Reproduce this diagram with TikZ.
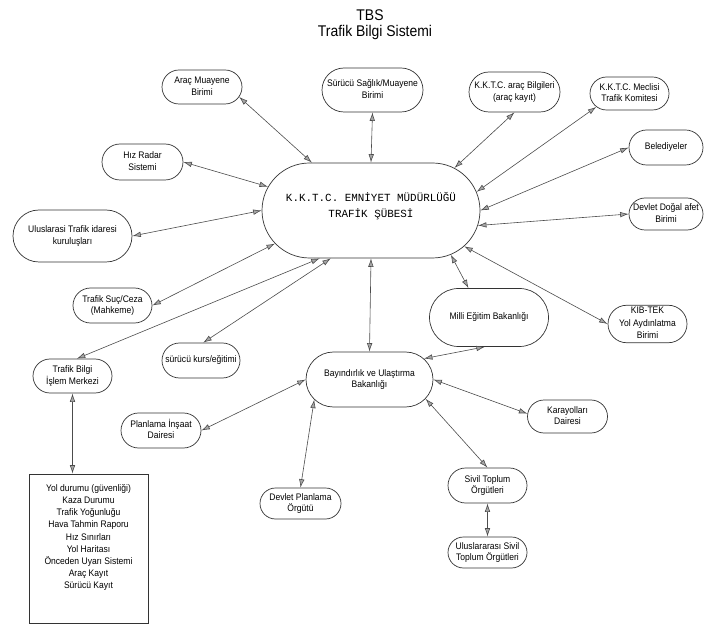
\documentclass[tikz,border=0pt]{standalone}
\usepackage{fontspec}
\setmainfont{Liberation Sans}[FakeStretch=0.9]
\newfontfamily\emnfont{Liberation Mono}
\usetikzlibrary{arrows.meta,shapes.misc}

\newcommand{\boxtext}[1]{\makebox[0pt]{\begin{tabular}{@{}c@{}}#1\end{tabular}}}

\tikzset{
  office/.style={draw=black!80, line width=0.7pt, shape=rounded rectangle, inner sep=0pt, font=\fontsize{9.5}{11.5}\selectfont},
  link/.style={<->, >={Latex[length=8.5pt,width=5.5pt,fill=black!35]}, draw=black!70, line width=0.6pt}
}

\begin{document}
\begin{tikzpicture}[x=1pt,y=-1pt]
\useasboundingbox (0,0) rectangle (707,628);

% title
\node[anchor=base, font=\fontsize{15.5}{18}\selectfont] (tbs) at (370,21) {TBS};
\node[anchor=base, font=\fontsize{15.5}{18}\selectfont] (title) at (375,37) {Trafik Bilgi Sistemi};

% center
\node[office, minimum width=218pt, minimum height=95pt, font=\emnfont\fontsize{10.9}{16}\selectfont, text height=14.2pt, text depth=17.8pt] (main) at (371,210.5) {\boxtext{K.K.T.C. EMNİYET MÜDÜRLÜĞÜ\\TRAFİK ŞÜBESİ}};

% units round it
\node[office, minimum width=80pt, minimum height=34pt] (arac) at (202,87) {\boxtext{Araç Muayene\\Birimi}};
\node[office, minimum width=101pt, minimum height=44pt] (surucu) at (372.5,90) {\boxtext{Sürücü Sağlık/Muayene\\Birimi}};
\node[office, minimum width=91pt, minimum height=40pt] (kayit) at (514.5,92) {\boxtext{K.K.T.C. araç Bilgileri\\(araç kayıt)}};
\node[office, minimum width=79pt, minimum height=33pt] (meclis) at (629.5,93.5) {\boxtext{K.K.T.C. Meclisi\\Trafik Komitesi}};
\node[office, minimum width=74pt, minimum height=35pt] (belediye) at (666,147.5) {\boxtext{Belediyeler}};
\node[office, minimum width=81pt, minimum height=36pt] (radar) at (142.5,162) {\boxtext{Hız Radar\\Sistemi}};
\node[office, minimum width=74pt, minimum height=32pt] (afet) at (666,214) {\boxtext{Devlet Doğal afet\\Birimi}};
\node[office, minimum width=119pt, minimum height=52pt] (ulus) at (72.5,236) {\boxtext{Uluslarasi Trafik idaresi\\kuruluşları}};
\node[office, minimum width=79pt, minimum height=35pt] (suc) at (112.5,305.5) {\boxtext{Trafik Suç/Ceza\\(Mahkeme)}};
\node[office, minimum width=119pt, minimum height=58pt] (milli) at (489,317.5) {\boxtext{Milli Eğitim Bakanlığı}};
\node[office, minimum width=79pt, minimum height=34pt, font=\fontsize{9.5}{12.5}\selectfont] (kibtek) at (647.5,324) {\boxtext{KIB-TEK\\Yol Aydınlatma\\Birimi}};
\node[office, minimum width=79pt, minimum height=34pt] (islem) at (72.5,376) {\boxtext{Trafik Bilgi\\İşlem Merkezi}};
\node[office, minimum width=78pt, minimum height=35pt] (kurs) at (201,360.5) {\boxtext{sürücü kurs/eğitimi}};
\node[office, minimum width=127pt, minimum height=55pt] (bayin) at (369.5,379.5) {\boxtext{Bayındırlık ve Ulaştırma\\Bakanlığı}};
\node[office, minimum width=80pt, minimum height=33pt] (karayol) at (567.5,416.5) {\boxtext{Karayolları\\Dairesi}};
\node[office, minimum width=80pt, minimum height=35pt] (planlama) at (161,430.5) {\boxtext{Planlama İnşaat\\Dairesi}};
\node[office, minimum width=81pt, minimum height=31pt] (dpo) at (300.5,503.5) {\boxtext{Devlet Planlama\\Örgütü}};
\node[office, minimum width=79pt, minimum height=35pt] (sivil) at (487.5,485.5) {\boxtext{Sivil Toplum\\Örgütleri}};
\node[office, minimum width=79pt, minimum height=31pt] (usivil) at (487.5,552.5) {\boxtext{Uluslararası Sivil\\Toplum Örgütleri}};

% data list
\node[draw=black!80, line width=0.7pt, minimum width=119pt, minimum height=149pt, inner sep=0pt, font=\fontsize{9.5}{12.1}\selectfont, text height=45.85pt, text depth=63.05pt] (liste) at (88.5,548.5) {\boxtext{Yol durumu (güvenliği)\\Kaza Durumu\\Trafik Yoğunluğu\\Hava Tahmin Raporu\\Hız Sınırları\\Yol Haritası\\Önceden Uyarı Sistemi\\Araç Kayıt\\Sürücü Kayıt}};

% links
\draw[link] (arac.-15) -- (main.141.5);
\draw[link] (surucu.south) -- (main.north);
\draw[link] (kayit.south) -- (main.27.7);
\draw[link] (meclis.202.8) -- (main.10.5);
\draw[link] (belediye.west) -- (main.0.8);
\draw[link] (afet.west) -- (main.-8);
\draw[link] (radar.east) -- (main.167.3);
\draw[link] (ulus.east) -- (main.180.8);
\draw[link] (suc.east) -- (main.199.9);
\draw[link] (islem.76.7) -- (main.223);
\draw[link] (kurs.83.8) -- (main.230.4);
\draw[link] (main.south) -- (bayin.north);
\draw[link] (main.-29.9) -- (milli.125.4);
\draw[link] (main.-21.3) -- (kibtek.west);
\draw[link] (milli.262) -- (bayin.21);
\draw[link] (bayin.east) -- (karayol.176.5);
\draw[link] (bayin.-19.3) -- (sivil.north);
\draw[link] (bayin.west) -- (planlama.east);
\draw[link] (bayin.200) -- (dpo.north);
\draw[link] (islem.south) -- (islem.south |- liste.north);
\draw[link] (sivil.south) -- (usivil.north);
\end{tikzpicture}
\end{document}
